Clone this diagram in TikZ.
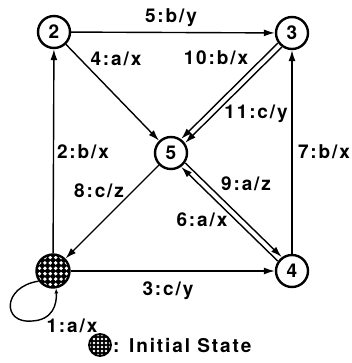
\documentclass[tikz,border=0pt]{standalone}
\usepackage{fontspec}
\newfontfamily\statefont[LetterSpace=10]{TeX Gyre Heros}
\usetikzlibrary{arrows.meta}

\begin{document}
\begin{tikzpicture}[x=1pt, y=-1pt,
  every node/.style={font=\statefont\bfseries\fontsize{19}{21}\selectfont, inner sep=1pt},
  state/.style={circle, draw, line width=2.4pt, minimum size=32pt, inner sep=0pt},
  initstate/.style={circle, draw, line width=2.4pt, fill=black, inner sep=0pt,
    path picture={\foreach \i in {-4,...,4} \foreach \j in {-4,...,4}
      \fill[white] ([shift={(\i*#1+0.5*#1,\j*#1+0.5*#1)}]path picture bounding box.center) circle (0.36*#1);}},
  trans/.style={line width=1.4pt, -{Latex[length=11pt,width=7pt]}}]
  \useasboundingbox (0,0) rectangle (352,363);

  % states
  \node[state] (n2) at (54,32) {2};
  \node[state] (n3) at (292,33) {3};
  \node[state] (n5) at (171,153) {5};
  \node[state] (n4) at (292,271) {4};
  \node[initstate=5.4pt, minimum size=33pt] (n1) at (53,271) {};

  % transitions
  \draw[trans] (n2) -- (n3);
  \draw[trans] (n2) -- (n5);
  \draw[trans, transform canvas={shift={(-2pt,2pt)}}] (n3) -- (n5);
  \draw[trans, transform canvas={shift={(2pt,-2pt)}}] (n3) -- (n5);
  \draw[trans] (n4) -- (n3);
  \draw[trans] (n1) -- (n2);
  \draw[trans] (n5) -- (n1);
  \draw[trans] (n1) -- (n4);
  \draw[trans, transform canvas={shift={(2pt,2pt)}}] (n5) -- (n4);
  \draw[trans, transform canvas={shift={(-2pt,-2pt)}}] (n4) -- (n5);
  \draw[trans, -{Latex[length=5pt,width=4pt]}] (n1.215) .. controls (2,287) and (2,324) .. (32,321)
    .. controls (53,320) and (57,304) .. (n1.280);

  % labels
  \node (l5) at (171,18) {5:b/y};
  \node (l4) at (116,59) {4:a/x};
  \node (l10) at (216,58) {10:b/x};
  \node (l11) at (256,114) {11:c/y};
  \node (l7) at (324,152) {7:b/x};
  \node (l2) at (83,152) {2:b/x};
  \node (l8) at (99,191) {8:c/z};
  \node (l9) at (246,184) {9:a/z};
  \node (l6) at (202,220) {6:a/x};
  \node (l3) at (168,291) {3:c/y};
  \node (l1) at (72,326) {1:a/x};

  % legend
  \node[initstate=4pt, minimum size=22pt, line width=1.8pt] (key) at (100,345) {};
  \node[anchor=west] (keytext) at (112,346) {: Initial State};
\end{tikzpicture}
\end{document}
